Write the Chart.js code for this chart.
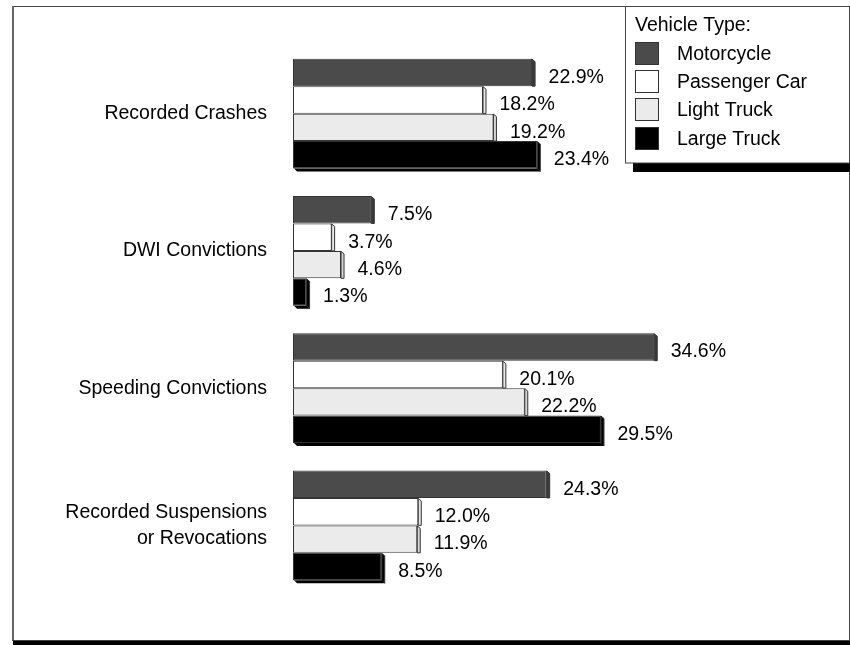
<!DOCTYPE html>
<html>
<head>
<meta charset="utf-8">
<script src="https://cdn.jsdelivr.net/npm/chart.js@4/dist/chart.umd.min.js"></script>
<style>
html,body{margin:0;padding:0;background:#fff;}
#wrap{width:850px;height:645px;position:relative;}
</style>
</head>
<body>
<div id="wrap"><canvas id="c" width="850" height="645"></canvas></div>
<script>
const categories = ['Recorded Crashes', 'DWI Convictions', 'Speeding Convictions', ['Recorded Suspensions', 'or Revocations']];
const seriesNames = ['Motorcycle', 'Passenger Car', 'Light Truck', 'Large Truck'];
const motorcycle = [22.9, 7.5, 34.6, 24.3];
const passengerCar = [18.2, 3.7, 20.1, 12.0];
const lightTruck = [19.2, 4.6, 22.2, 11.9];
const largeTruck = [23.4, 1.3, 29.5, 8.5];
const legendTitle = 'Vehicle Type:';

const FONT = "'Liberation Sans', Arial, sans-serif";
const colors = ['#4b4b4b', '#ffffff', '#ebebeb', '#000000'];
const sideColors = ['#3a3a3a', '#e6e6e6', '#d4d4d4', '#000000'];

const frameLegendPlugin = {
  id: 'frameLegend',
  beforeDraw(chart) {
    const ctx = chart.ctx;
    ctx.save();
    ctx.fillStyle = '#fff';
    ctx.fillRect(0, 0, chart.width, chart.height);
    ctx.strokeStyle = '#444';
    ctx.lineWidth = 1;
    ctx.strokeRect(12.5, 6.5, 837, 634);
    ctx.fillStyle = '#666';
    ctx.fillRect(12, 6, 2, 634);
    ctx.fillStyle = '#000';
    ctx.fillRect(13, 641, 837, 4);
    ctx.restore();
  },
  afterDatasetsDraw(chart) {
    const ctx = chart.ctx;
    ctx.save();
    const n = chart.data.datasets.length;
    chart.data.datasets.forEach((ds, di) => {
      const meta = chart.getDatasetMeta(di);
      meta.data.forEach((bar, i) => {
        const p = bar.getProps(['x', 'y', 'base', 'height'], true);
        const top = p.y - p.height / 2;
        const bottom = p.y + p.height / 2;
        ctx.fillStyle = sideColors[di];
        ctx.strokeStyle = '#333';
        ctx.lineWidth = 1;
        ctx.beginPath();
        ctx.moveTo(p.x, top + 0.5);
        ctx.lineTo(p.x + 3, top + 3);
        ctx.lineTo(p.x + 3, bottom + (di === n - 1 ? 3 : 0));
        ctx.lineTo(p.x, bottom);
        ctx.closePath();
        ctx.fill();
        ctx.stroke();
        if (di === n - 1) {
          ctx.fillStyle = '#000';
          ctx.beginPath();
          ctx.moveTo(p.base + 1, bottom);
          ctx.lineTo(p.x, bottom);
          ctx.lineTo(p.x + 3, bottom + 3);
          ctx.lineTo(p.base + 4, bottom + 3);
          ctx.closePath();
          ctx.fill();
        }
        const v = ds.data[i];
        ctx.fillStyle = '#000';
        ctx.font = '19.5px ' + FONT;
        ctx.textAlign = 'left';
        ctx.textBaseline = 'middle';
        ctx.fillText(v.toFixed(1) + '%', p.x + 16.5, p.y + 5);
      });
    });
    ctx.restore();
  },
  afterDraw(chart) {
    const ctx = chart.ctx;
    ctx.save();
    ctx.fillStyle = '#000';
    ctx.fillRect(633, 163, 217, 9);
    ctx.fillStyle = '#fff';
    ctx.fillRect(625, 6, 224, 157);
    ctx.strokeStyle = '#444';
    ctx.lineWidth = 1;
    ctx.strokeRect(625.5, 6.5, 224, 156.5);
    ctx.fillStyle = '#000';
    ctx.font = '19.5px ' + FONT;
    ctx.textAlign = 'left';
    ctx.textBaseline = 'middle';
    ctx.fillText(legendTitle, 635, 26);
    const rows = [42, 70, 98, 127];
    chart.data.datasets.forEach((ds, di) => {
      const y = rows[di];
      ctx.fillStyle = ds.backgroundColor;
      ctx.fillRect(635, y, 24, 23);
      ctx.strokeStyle = '#333';
      ctx.strokeRect(635.5, y + 0.5, 23, 22);
      ctx.fillStyle = '#000';
      ctx.fillText(ds.label, 677, y + 13);
    });
    ctx.restore();
  }
};

const seriesData = [motorcycle, passengerCar, lightTruck, largeTruck];

new Chart(document.getElementById('c'), {
  type: 'bar',
  data: {
    labels: categories,
    datasets: seriesNames.map((name, i) => ({
      label: name,
      data: seriesData[i],
      backgroundColor: colors[i],
      borderColor: '#333',
      borderWidth: 1,
      borderSkipped: false,
      categoryPercentage: 0.8,
      barPercentage: 1.0
    }))
  },
  options: {
    indexAxis: 'y',
    responsive: false,
    animation: false,
    devicePixelRatio: 1,
    layout: { padding: { left: 0, right: 35, top: 45, bottom: 51 } },
    plugins: { legend: { display: false }, tooltip: { enabled: false } },
    scales: {
      x: { min: 0, max: 50, display: false },
      y: {
        grid: { display: false, drawTicks: false },
        border: { display: false },
        ticks: {
          color: '#000',
          padding: 26,
          font: { family: FONT, size: 19.5, lineHeight: 1.35 }
        },
        afterFit(scale) {
          scale.width = 293;
          scale.paddingTop = 0;
          scale.paddingBottom = 0;
        }
      }
    }
  },
  plugins: [frameLegendPlugin]
});
</script>
</body>
</html>
